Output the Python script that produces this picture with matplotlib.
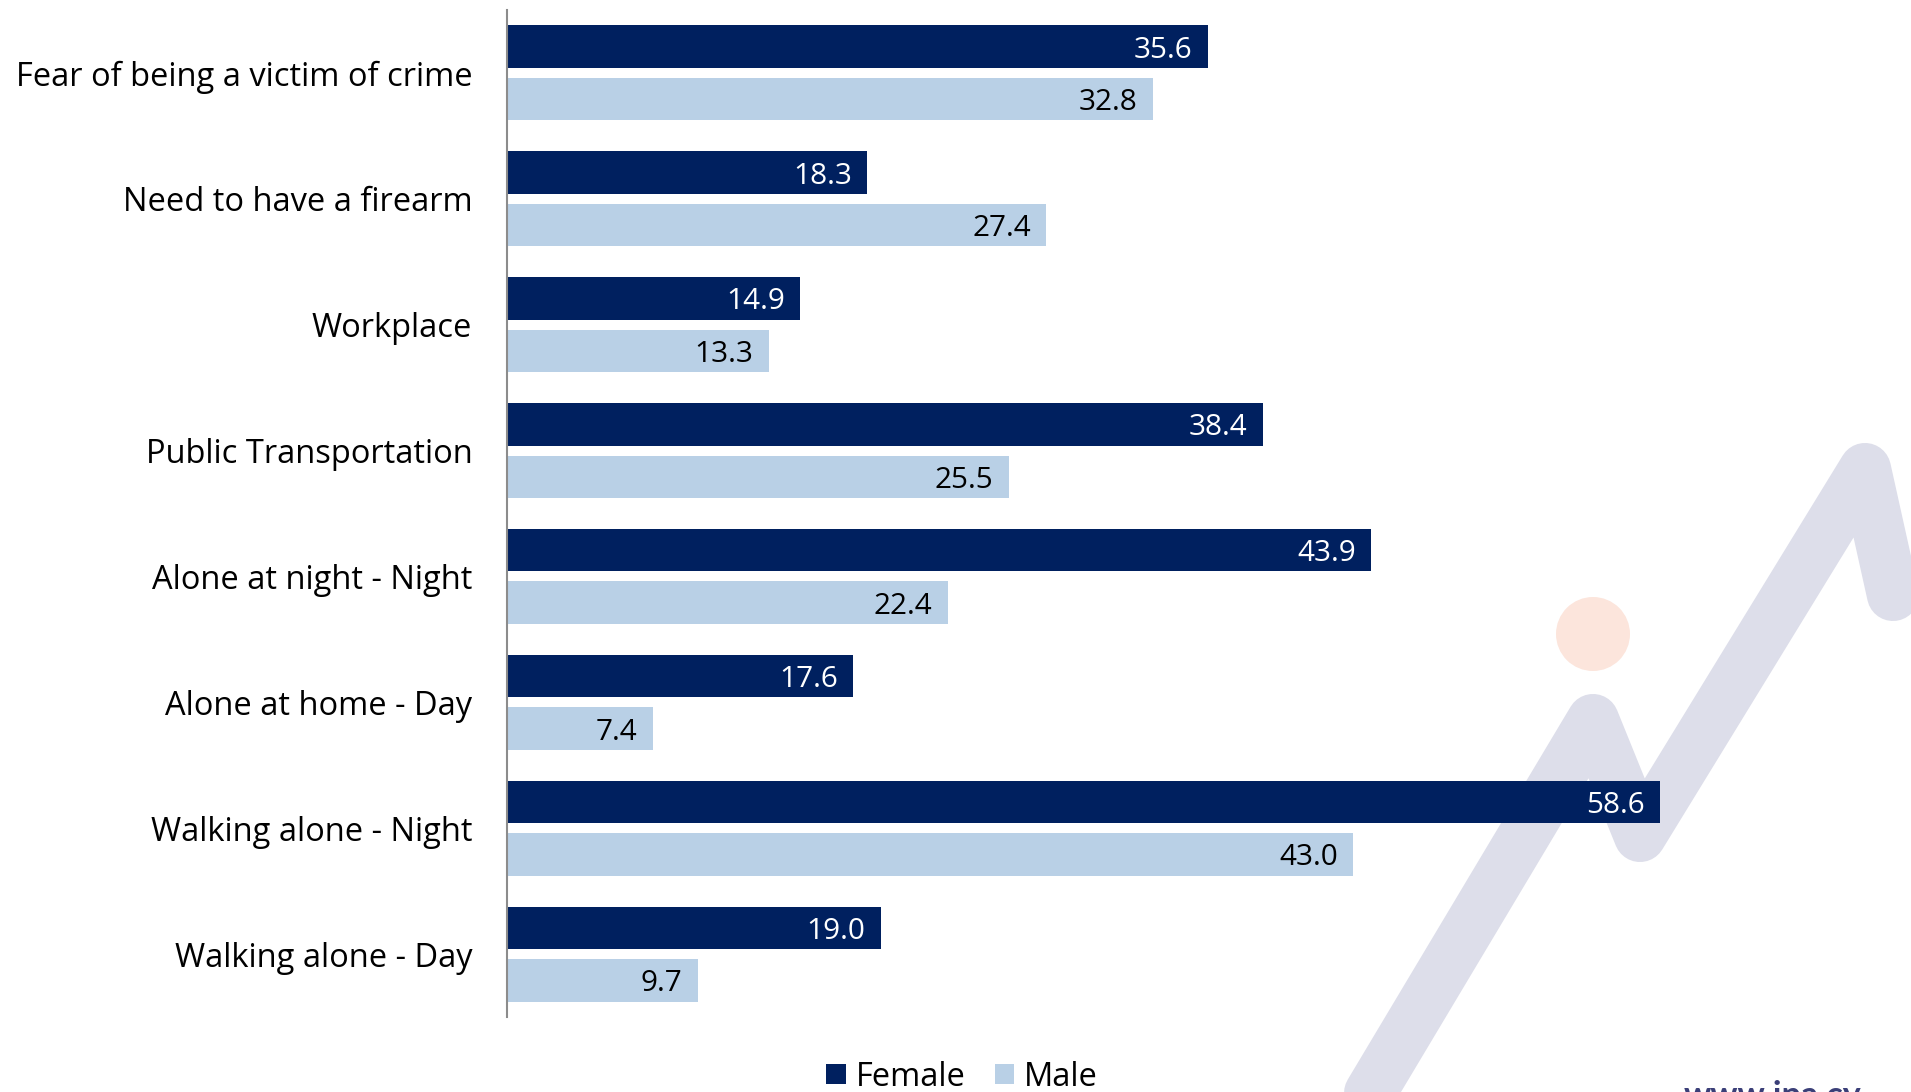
import matplotlib
matplotlib.use("Agg")
import matplotlib.pyplot as plt
from matplotlib.patches import Patch, Circle
from matplotlib.lines import Line2D
import numpy as np

plt.rcParams['font.family'] = ['Open Sans', 'DejaVu Sans']

categories = ["Fear of being a victim of crime", "Need to have a firearm", "Workplace",
              "Public Transportation", "Alone at night - Night", "Alone at home - Day",
              "Walking alone - Night", "Walking alone - Day"]
female = [35.6, 18.3, 14.9, 38.4, 43.9, 17.6, 58.6, 19.0]
male = [32.8, 27.4, 13.3, 25.5, 22.4, 7.4, 43.0, 9.7]
series_names = ["Female", "Male"]

FEMALE_C = "#00205F"
MALE_C = "#B9D0E6"
WM_LINE_C = "#DDDEEA"
WM_DOT_C = "#FCE5DC"

W, H = 1911, 1092
fig = plt.figure(figsize=(W / 100, H / 100), dpi=100)

# background watermark (pixel coords)
bg = fig.add_axes([0, 0, 1, 1], zorder=-1)
bg.set_xlim(0, W)
bg.set_ylim(H, 0)
bg.axis("off")
wm_x = [1330, 1593, 1640, 1865, 1893]
wm_y = [1160, 720, 836, 469, 595]
bg.add_line(Line2D(wm_x, wm_y, color=WM_LINE_C, lw=37.5,
                   solid_capstyle="round", solid_joinstyle="round"))
bg.add_patch(Circle((1593, 634), 37, color=WM_DOT_C, lw=0))
bg.text(1772, 1106, "www.ipa.cy", color="#3B3F78", fontsize=24.5, fontweight="bold",
        ha="center", va="baseline", family=["Lato", "DejaVu Sans"])

ax = fig.add_axes([507 / W, 1 - 1017 / H, 1377.6 / W, 1007 / H])
ax.set_facecolor("none")

y = np.arange(len(categories))
off = 0.2085
bh = 0.338
fb = ax.barh(y - off, female, height=bh, color=FEMALE_C, label=series_names[0])
mb = ax.barh(y + off, male, height=bh, color=MALE_C, label=series_names[1])

for v, yy in zip(female, y - off):
    ax.annotate(f"{v:.1f}", xy=(v, yy), xytext=(-11, 0), textcoords="offset points",
                ha="right", va="center_baseline", color="white", fontsize=21.4)
for v, yy in zip(male, y + off):
    ax.annotate(f"{v:.1f}", xy=(v, yy), xytext=(-11, 0), textcoords="offset points",
                ha="right", va="center_baseline", color="black", fontsize=21.4)

ax.set_xlim(0, 70)
ax.set_ylim(len(categories) - 0.5, -0.5)
ax.set_yticks(y)
ax.set_yticklabels(categories, fontsize=23.5, va="center_baseline")
ax.tick_params(axis="y", length=0, pad=25)
ax.set_xticks([])
for s in ["top", "right", "bottom"]:
    ax.spines[s].set_visible(False)
ax.spines["left"].set_color("#8C8C8C")
ax.spines["left"].set_linewidth(1.5)

handles = [Patch(facecolor=FEMALE_C), Patch(facecolor=MALE_C)]
fig.legend(handles, series_names, loc="center", bbox_to_anchor=(962 / W, 1 - 1077 / H),
           ncol=2, frameon=False, fontsize=23.5, handlelength=0.6, handleheight=0.6,
           handletextpad=0.3, columnspacing=0.9)

fig.savefig("out.png", dpi=100)
